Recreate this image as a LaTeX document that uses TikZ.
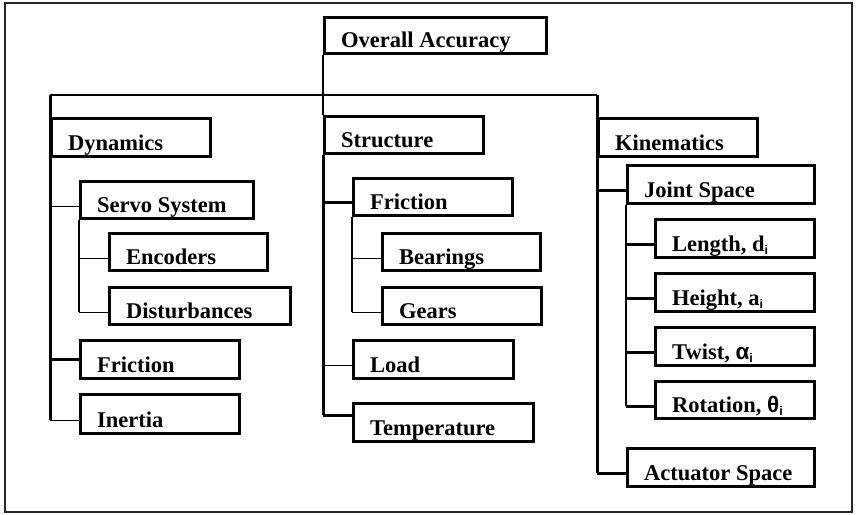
\documentclass[tikz,border=0pt]{standalone}
\usepackage{fontspec}
\setmainfont{Liberation Serif}
\newfontfamily\subfont{Liberation Sans}
\usetikzlibrary{calc}
\tikzset{
  box/.style={draw, line width=2.8pt, rectangle, inner sep=0pt, anchor=north west},
  lbl/.style={anchor=base west, inner sep=0pt, font=\fontsize{22.5}{26}\selectfont\bfseries},
  thinln/.style={line width=1.7pt},
  thickln/.style={line width=3pt},
}
% box: name, left, top, right, bottom, text
\newcommand\bx[6]{%
  \node[box, minimum width={#4-#2}, minimum height={#5-#3}] (#1) at (#2,#3) {};
  \node[lbl] (#1-t) at ($(#1.south west)+(18,-7)$) {#6};
}
% entry point on a child's left edge
\newcommand\inpt[2]{\coordinate (#1-in) at ($(#1.west)+(0,#2)$);}
\newcommand\sub[1]{\raisebox{-3pt}{\subfont\bfseries\fontsize{12.5}{13}\selectfont #1}}
\newcommand\grk[1]{{\subfont\bfseries #1}}
\begin{document}
\begin{tikzpicture}[x=1pt,y=-1pt]
\useasboundingbox (0,0) rectangle (856,514);
\draw[line width=1.8pt, black!85] (5,3) rectangle (852,512);

% boxes
\bx{root}{323}{16}{545}{52}{Overall Accuracy}
\bx{dyn}{50}{117}{209}{155}{Dynamics}
\bx{servo}{79}{180}{252}{217}{Servo System}
\bx{enc}{108}{232}{266}{269}{Encoders}
\bx{dist}{108}{286}{289}{323}{Disturbances}
\bx{dfric}{79}{339}{238}{377}{Friction}
\bx{inertia}{79}{393}{238}{432}{Inertia}
\bx{str}{323}{115}{482}{152}{Structure}
\bx{sfric}{352}{177}{511}{214}{Friction}
\bx{bear}{381}{232}{539}{269}{Bearings}
\bx{gears}{381}{286}{540}{323}{Gears}
\bx{load}{352}{339}{512}{377}{Load}
\bx{temp}{352}{402}{532}{440}{Temperature}
\bx{kin}{597}{117}{756}{155}{Kinematics}
\bx{joint}{626}{164}{813}{202}{Joint Space}
\bx{len}{654}{218}{813}{256}{Length, d\sub{i}}
\bx{hgt}{654}{272}{813}{310}{Height, a\sub{i}}
\bx{twist}{654}{326}{813}{364}{Twist, \grk{α}\sub{i}}
\bx{rot}{654}{380}{813}{417}{Rotation, \grk{θ}\sub{i}}
\bx{act}{626}{447}{813}{485}{Actuator Space}

% entry points
\inpt{servo}{6.5}\inpt{enc}{6.5}\inpt{dist}{6.5}\inpt{dfric}{0}\inpt{inertia}{6.5}
\inpt{sfric}{5.5}\inpt{bear}{6.5}\inpt{gears}{6.5}\inpt{load}{6}\inpt{temp}{-7}
\inpt{joint}{6}\inpt{len}{6}\inpt{hgt}{6}\inpt{twist}{6}\inpt{rot}{6.5}\inpt{act}{6}
\coordinate (bar) at ($(root.south west)+(0,40)$);

% top level
\draw[thinln] (root.south west) -- (str.north west);
\draw[thinln] (dyn.north west |- bar) -- (kin.north west |- bar);

% trunks
\draw[thickln] (dyn.north west |- bar) -- (dyn.south west |- inertia-in);
\draw[thinln] (servo.south west) -- (servo.south west |- dist-in);
\draw[thickln] (str.south west) -- (str.south west |- temp-in);
\draw[thinln] (sfric.south west) -- (sfric.south west |- gears-in);
\draw[thickln] (kin.north west |- bar) -- (kin.south west |- act-in);
\draw[thinln] (joint.south west) -- (joint.south west |- rot-in);

% stubs
\draw[thinln]  (dyn.south west |- servo-in) -- (servo-in);
\draw[thinln]  (servo.south west |- enc-in) -- (enc-in);
\draw[thinln]  (servo.south west |- dist-in) -- (dist-in);
\draw[thickln] (dyn.south west |- dfric-in) -- (dfric-in);
\draw[thinln]  (dyn.south west |- inertia-in) -- (inertia-in);
\draw[thickln] (str.south west |- sfric-in) -- (sfric-in);
\draw[thinln]  (sfric.south west |- bear-in) -- (bear-in);
\draw[thinln]  (sfric.south west |- gears-in) -- (gears-in);
\draw[thinln]  (str.south west |- load-in) -- (load-in);
\draw[thickln] (str.south west |- temp-in) -- (temp-in);
\draw[thickln] (kin.south west |- joint-in) -- (joint-in);
\draw[thickln] (joint.south west |- len-in) -- (len-in);
\draw[thickln] (joint.south west |- hgt-in) -- (hgt-in);
\draw[thickln] (joint.south west |- twist-in) -- (twist-in);
\draw[thickln] (joint.south west |- rot-in) -- (rot-in);
\draw[thickln] (kin.south west |- act-in) -- (act-in);
\end{tikzpicture}
\end{document}
